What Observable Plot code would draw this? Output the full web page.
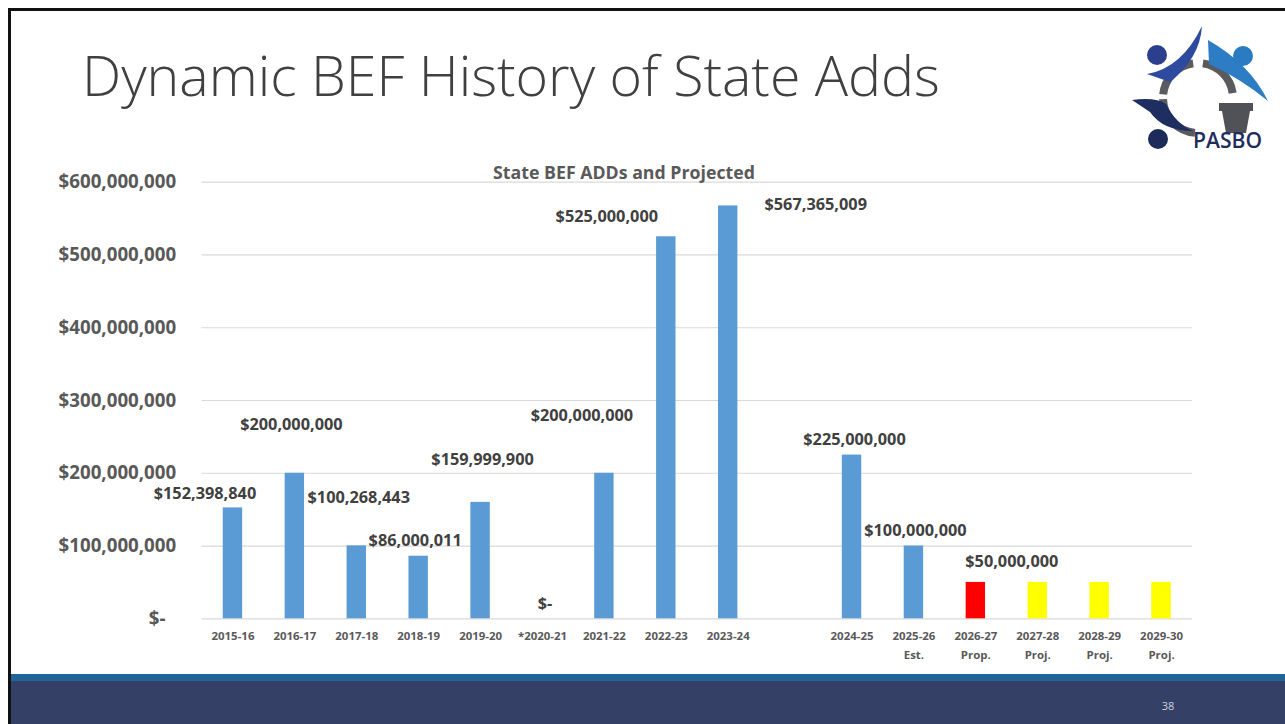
<!DOCTYPE html>
<html>
<head>
<meta charset="utf-8">
<script src="https://cdn.jsdelivr.net/npm/d3@7"></script>
<script src="https://cdn.jsdelivr.net/npm/@observablehq/plot@0.6"></script>
<style>
  html, body { margin: 0; padding: 0; background: #fff; }
  #page { position: relative; width: 1285px; height: 724px; overflow: hidden; background: #fff; font-family: "Open Sans", sans-serif; }
  #chart { position: absolute; left: 0; top: 150px; }
  #overlay { position: absolute; left: 0; top: 0; pointer-events: none; }
</style>
</head>
<body>
<div id="page">
  <div id="chart"></div>
  <svg id="overlay" width="1285" height="724"></svg>
</div>
<script>
// ---------- data ----------
const categories = ["2015-16","2016-17","2017-18","2018-19","2019-20","*2020-21","2021-22","2022-23","2023-24","2024-25","2025-26","2026-27","2027-28","2028-29","2029-30"];
const subLabels  = ["","","","","","","","","","","Est.","Prop.","Proj.","Proj.","Proj."];
const values     = [152398840,200000000,100268443,86000011,159999900,0,200000000,525000000,567365009,225000000,100000000,50000000,50000000,50000000,50000000];
const kinds      = ["Actual","Actual","Actual","Actual","Actual","Actual","Actual","Actual","Actual","Actual","Actual","Proposed","Projected","Projected","Projected"];
const labelled   = [true,true,true,true,true,true,true,true,true,true,true,true,false,false,false];
const gapAfter   = "2023-24";
const yTicks     = [0,100000000,200000000,300000000,400000000,500000000,600000000];
const titleText  = "Dynamic BEF History of State Adds";
const subtitleText = "State BEF ADDs and Projected";
const pageNumber = "38";

// ---------- presentation ----------
const kindColors = {Actual: "#5B9BD5", Proposed: "#FF0000", Projected: "#FFFF00"};
// pixel nudges for the hand-placed data labels, relative to the top-centre of each bar
const labelNudge = [[-28,-14],[-3.5,-48.3],[2,-47.8],[-3.5,-15.7],[2,-43],[2.5,-15.3],[-22.5,-57.3],[-59.5,-20],[87.5,-1.5],[2.5,-15],[1.5,-15.5],[36,-21]];

const FONT = "'Open Sans', sans-serif";
const ctx = document.createElement("canvas").getContext("2d");
function fit(text, weight, target) {
  ctx.font = `${weight} 100px ${FONT}`;
  return 100 * target / ctx.measureText(text).width;
}
const yFont     = fit("$600,000,000", "bold", 117.7);
const labelFont = fit("$200,000,000", "bold", 102.5);
const catFont   = fit("2015-16", "bold", 43);
const subFont   = fit(subtitleText, "bold", 262);
const titleFont = fit(titleText, "300", 858);

const GAP = "\u0020gap";
const domain = [];
categories.forEach(c => { domain.push(c); if (c === gapAfter) domain.push(GAP); });
const subOf = Object.fromEntries(categories.map((c, i) => [c, subLabels[i]]));

const rows = categories.map((c, i) => ({cat: c, value: values[i], kind: kinds[i], label: labelled[i]}));
const money = d => d === 0 ? "$-" : "$" + d3.format(",")(d);

const labelMarks = rows.filter(d => d.label).map((d, j) =>
  Plot.text([d], {
    x: "cat", y: "value", text: r => money(r.value),
    dx: labelNudge[j][0], dy: labelNudge[j][1],
    fontSize: labelFont, fontWeight: "bold", fill: "#404040", textAnchor: "middle"
  })
);

const chart = Plot.plot({
  width: 1285, height: 520,
  marginTop: 31.7, marginBottom: 51.7, marginLeft: 201.5, marginRight: 93,
  style: {fontFamily: FONT, background: "transparent", overflow: "visible"},
  x: {domain, padding: 0, round: false, axis: null, label: null},
  y: {domain: [0, 600000000], axis: null, label: null},
  color: {domain: Object.keys(kindColors), range: Object.values(kindColors)},
  marks: [
    Plot.gridY(yTicks, {stroke: "#D9D9D9", strokeOpacity: 1, strokeWidth: 1.2}),
    Plot.axisY(yTicks, {
      label: null, tickSize: 0, tickPadding: 25.8,
      tickFormat: d => d === 0 ? "$-\u2007" : "$" + d3.format(",")(d),
      fontSize: yFont, fontWeight: "bold", fill: "#595959"
    }),
    Plot.axisX({
      label: null, tickSize: 0, tickPadding: 8.5,
      tickFormat: c => c === GAP ? "" : (subOf[c] ? c + "\n" + subOf[c] : c),
      fontSize: catFont, fontWeight: "bold", fill: "#595959", lineHeight: 1.6
    }),
    Plot.barY(rows, {x: "cat", y: "value", fill: "kind", insetLeft: 21.25, insetRight: 21.25}),
    ...labelMarks
  ]
});
document.getElementById("chart").appendChild(chart);

// ---------- slide chrome ----------
const ov = d3.select("#overlay");
// footer
ov.append("rect").attr("x", 11).attr("y", 674).attr("width", 1274).attr("height", 7).attr("fill", "#21649A");
ov.append("rect").attr("x", 11).attr("y", 681).attr("width", 1274).attr("height", 43).attr("fill", "#344066");
ov.append("text").attr("x", 1168).attr("y", 710).attr("text-anchor", "middle")
  .attr("font-family", FONT).attr("font-size", 11).attr("fill", "#D0D3DC").text(pageNumber);
// frame
ov.append("rect").attr("x", 8).attr("y", 8).attr("width", 1277).attr("height", 3).attr("fill", "#111");
ov.append("rect").attr("x", 8).attr("y", 8).attr("width", 3).attr("height", 716).attr("fill", "#111");
// title
ov.append("text").attr("x", 82).attr("y", 96)
  .attr("font-family", FONT).attr("font-weight", 300).attr("font-size", titleFont)
  .attr("fill", "#404040").text(titleText);
// chart subtitle
ov.append("text").attr("x", 624).attr("y", 178.5).attr("text-anchor", "middle")
  .attr("font-family", FONT).attr("font-weight", "bold").attr("font-size", subFont)
  .attr("fill", "#595959").text(subtitleText);

// logo (simplified)
const lg = ov.append("g");
const cx = 1198, cy = 98, R = 35;
const pt = a => [cx + R * Math.cos(a * Math.PI / 180), cy + R * Math.sin(a * Math.PI / 180)];
const arc = (a0, a1) => {
  const [x0, y0] = pt(a0), [x1, y1] = pt(a1);
  lg.append("path").attr("d", `M${x0} ${y0} A${R} ${R} 0 ${a1 - a0 > 180 ? 1 : 0} 1 ${x1} ${y1}`)
    .attr("fill", "none").attr("stroke", "#5A5B5E").attr("stroke-width", 8);
};
arc(95, 178);
arc(186, 262);
arc(278, 352);
lg.append("path").attr("d", "M1147 74 Q1182 68 1202 26 Q1200 58 1170 82 Z").attr("fill", "#2D4A9E");
lg.append("path").attr("d", "M1208 40 L1209 64 Q1240 78 1268 101 Q1250 64 1208 40 Z").attr("fill", "#2C7DC3");
lg.append("path").attr("d", "M1132 100 Q1156 97 1166 104 Q1176 124 1193 131 Q1163 131 1150 112 Z").attr("fill", "#1E2E60");
lg.append("circle").attr("cx", 1157).attr("cy", 55).attr("r", 10).attr("fill", "#2B3F8E");
lg.append("circle").attr("cx", 1243).attr("cy", 56).attr("r", 10).attr("fill", "#2A7BC2");
lg.append("circle").attr("cx", 1158).attr("cy", 139).attr("r", 10).attr("fill", "#1D2B5A");
lg.append("path").attr("d", "M1219 103 L1253 103 L1253 111 L1250 111 L1246 133 L1226 133 L1222 111 L1219 111 Z").attr("fill", "#505257");
lg.append("text").attr("x", 1193).attr("y", 148).attr("font-family", FONT).attr("font-weight", 600)
  .attr("font-size", 22).attr("textLength", 69).attr("lengthAdjust", "spacingAndGlyphs")
  .attr("fill", "#1F2D5E").text("PASBO");
</script>
</body>
</html>
